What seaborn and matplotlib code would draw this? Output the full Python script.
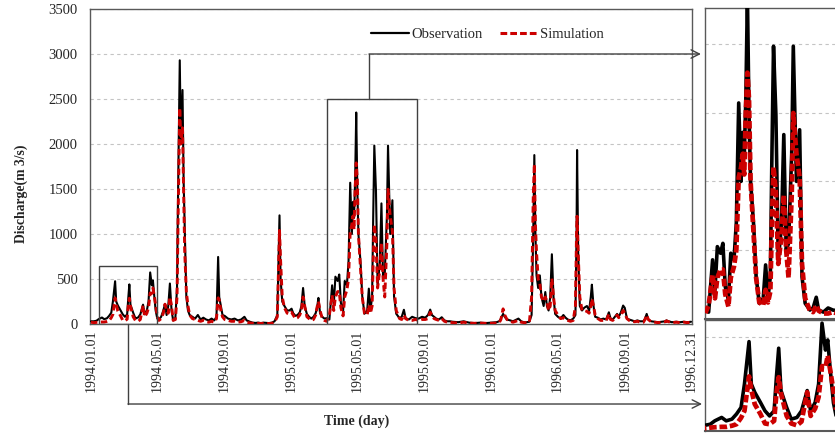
import numpy as np
import pandas as pd
import matplotlib
matplotlib.use("Agg")
import matplotlib.pyplot as plt
import matplotlib.dates as mdates
from matplotlib.patches import Rectangle
from matplotlib.lines import Line2D
import seaborn as sns

# ---------------- data (day offset from 1994-01-01, discharge m3/s) ----------------
days = [0, 5, 10, 14, 20, 24, 29, 33, 37, 40, 44, 46, 49, 54, 58, 62, 66, 68, 70, 72,
        77, 81, 86, 90, 95, 98, 102, 105, 108, 111, 113, 115, 118, 121, 124, 128, 132, 135, 138, 141,
        144, 147, 150, 154, 157, 159, 162, 164, 167, 169, 171, 174, 177, 180, 185, 190, 195, 200, 205, 210,
        215, 220, 225, 229, 232, 234, 237, 240, 244, 250, 256, 262, 268, 274, 280, 284, 290, 295, 300, 305,
        310, 315, 320, 325, 330, 335, 340, 344, 346, 349, 353, 358, 362, 366, 369, 373, 377, 381, 384, 387,
        390, 394, 398, 402, 406, 410, 413, 415, 418, 422, 426, 430, 435, 440, 443, 446, 450, 453, 456, 460,
        463, 467, 470, 473, 476, 478, 480, 482, 484, 486, 488, 492, 495, 499, 504, 507, 510, 513, 515, 517,
        520, 523, 527, 530, 533, 536, 540, 542, 546, 550, 553, 557, 563, 567, 571, 574, 580, 586, 592, 598,
        604, 610, 615, 619, 622, 626, 630, 635, 640, 645, 650, 655, 660, 670, 680, 690, 700, 710, 720, 730,
        740, 745, 748, 752, 755, 759, 765, 770, 775, 780, 785, 790, 795, 800, 804, 807, 809, 811, 813, 816,
        819, 822, 826, 829, 832, 835, 838, 841, 844, 847, 852, 857, 862, 866, 870, 875, 880, 884, 886, 887,
        889, 892, 896, 900, 905, 909, 912, 914, 917, 920, 925, 930, 935, 940, 945, 948, 952, 956, 960, 963,
        967, 971, 974, 978, 982, 987, 992, 997, 1002, 1008, 1011, 1014, 1017, 1022, 1028, 1035, 1042, 1048, 1050, 1054,
        1060, 1068, 1075, 1082, 1088, 1095]

observation = [30, 30, 36, 54, 72, 54, 63, 90, 125, 250, 475, 250, 206, 152, 107, 80, 107, 286, 440, 215,
               125, 63, 72, 107, 215, 107, 152, 250, 573, 430, 484, 340, 150, 60, 50, 80, 150, 220, 100, 200,
               450, 150, 40, 70, 400, 1500, 2930, 2000, 2600, 1600, 1095, 300, 150, 100, 80, 60, 100, 50, 70, 50,
               40, 60, 40, 80, 745, 300, 200, 100, 90, 60, 50, 60, 40, 50, 80, 40, 25, 15, 12, 15,
               10, 15, 12, 10, 15, 30, 100, 1207, 500, 250, 200, 150, 150, 170, 120, 90, 100, 130, 200, 400,
               200, 110, 80, 60, 80, 120, 200, 290, 120, 80, 60, 65, 50, 430, 211, 526, 478, 550, 235, 138,
               478, 430, 700, 1570, 1000, 1356, 1180, 1600, 2350, 1500, 1000, 672, 308, 114, 150, 393, 150, 308, 1200, 1982,
               1485, 430, 672, 1340, 500, 550, 1200, 1982, 1000, 1375, 308, 114, 65, 80, 158, 65, 50, 80, 65, 60,
               80, 70, 100, 160, 100, 80, 60, 50, 75, 40, 30, 30, 25, 20, 30, 15, 10, 15, 10, 15,
               20, 30, 60, 112, 80, 50, 40, 30, 45, 60, 30, 20, 20, 25, 100, 1000, 1877, 1000, 540, 400,
               540, 300, 200, 355, 200, 150, 300, 775, 300, 112, 80, 60, 100, 70, 50, 40, 60, 100, 1000, 1933,
               800, 200, 150, 180, 200, 150, 300, 437, 200, 80, 70, 50, 60, 50, 130, 60, 50, 80, 112, 80,
               130, 205, 180, 60, 50, 40, 30, 40, 30, 30, 60, 112, 50, 30, 25, 20, 25, 30, 40, 30,
               20, 25, 20, 25, 20, 25]

simulation = [20, 15, 18, 20, 22, 22, 28, 36, 70, 107, 290, 220, 143, 90, 40, 36, 54, 200, 286, 200,
              80, 40, 30, 50, 206, 80, 120, 180, 345, 340, 400, 330, 215, 80, 40, 60, 120, 220, 150, 120,
              300, 200, 40, 50, 300, 1200, 2400, 2000, 2180, 1500, 810, 360, 200, 100, 60, 50, 40, 30, 40, 25,
              20, 30, 20, 60, 290, 270, 150, 80, 50, 40, 30, 30, 20, 25, 40, 20, 12, 8, 6, 8,
              6, 8, 6, 6, 8, 20, 80, 1040, 700, 300, 180, 120, 110, 130, 100, 60, 70, 100, 150, 300,
              200, 80, 60, 40, 50, 100, 200, 250, 150, 60, 40, 30, 100, 320, 150, 300, 360, 360, 180, 90,
              300, 380, 500, 1030, 1100, 1200, 1050, 1500, 1790, 1600, 1000, 600, 300, 120, 100, 212, 120, 200, 700, 1105,
              920, 400, 600, 900, 500, 300, 900, 1497, 1200, 1030, 400, 150, 60, 50, 100, 60, 40, 40, 50, 40,
              50, 50, 60, 130, 100, 60, 50, 40, 60, 30, 20, 20, 15, 10, 20, 10, 8, 10, 8, 8,
              10, 15, 50, 168, 100, 50, 30, 20, 30, 40, 20, 15, 15, 20, 300, 1400, 1776, 1100, 800, 500,
              450, 300, 250, 300, 250, 150, 200, 505, 300, 150, 100, 60, 70, 50, 40, 30, 40, 200, 1000, 1197,
              800, 300, 150, 150, 140, 120, 200, 280, 200, 100, 60, 40, 40, 35, 110, 50, 40, 60, 100, 70,
              100, 150, 120, 60, 40, 30, 25, 30, 20, 20, 50, 100, 50, 25, 20, 15, 20, 25, 35, 25,
              15, 20, 15, 20, 15, 20]

tick_dates = ["1994-01-01", "1994-05-01", "1994-09-01", "1995-01-01", "1995-05-01",
              "1995-09-01", "1996-01-01", "1996-05-01", "1996-09-01", "1996-12-31"]
tick_labels = ["1994.01.01", "1994.05.01", "1994.09.01", "1995.01.01", "1995.05.01",
               "1995.09.01", "1996.01.01", "1996.05.01", "1996.09.01", "1996.12.31"]
y_ticks = [0, 500, 1000, 1500, 2000, 2500, 3000, 3500]
series_names = ["Observation", "Simulation"]

# ---------------- style ----------------
sns.set_style("white")
plt.rcParams["font.family"] = ["Liberation Serif", "DejaVu Serif"]

RED = "#cc0000"
EDGE = "#595959"
GRID = "#c4c4c4"

start = pd.Timestamp("1994-01-01")
df = pd.DataFrame({
    "date": start + pd.to_timedelta(days, unit="D"),
    "Observation": observation,
    "Simulation": simulation,
})


def d(x):
    return mdates.date2num(start + pd.Timedelta(days=x))


W, H = 835, 438
fig = plt.figure(figsize=(W / 100, H / 100), dpi=100)


def px_axes(l, t, r, b):
    return fig.add_axes([l / W, 1 - b / H, (r - l) / W, (b - t) / H])


ax = px_axes(90, 9, 692, 324)
ax_top = px_axes(705, 8, 838, 319)
ax_bot = px_axes(705, 320, 838, 431)


def draw(a, lw_o, lw_s, dash):
    sns.lineplot(data=df, x="date", y="Observation", ax=a, color="black", lw=lw_o,
                 estimator=None, legend=False, zorder=3)
    sns.lineplot(data=df, x="date", y="Simulation", ax=a, color=RED, lw=lw_s,
                 linestyle=(0, dash), estimator=None, legend=False, zorder=4)
    a.set_xlabel("")
    a.set_ylabel("")
    a.set_axisbelow(True)
    a.yaxis.grid(True, color=GRID, linestyle=(0, (3, 3)), lw=0.8)
    a.xaxis.grid(False)
    for s in a.spines.values():
        s.set_color(EDGE)
        s.set_linewidth(1.0)


# ---------------- main panel ----------------
draw(ax, 1.5, 2.1, (2.2, 1.2))
ax.set_xlim(d(-1.8), d(1096.7))
ax.set_ylim(0, 3500)
ax.set_yticks(y_ticks)
ax.set_xticks([mdates.date2num(pd.Timestamp(t)) for t in tick_dates])
ax.set_xticklabels(tick_labels, rotation=90, fontsize=10)
ax.tick_params(axis="y", length=0, pad=9, labelsize=10.5)
ax.tick_params(axis="x", length=0, pad=4)

legend_handles = [Line2D([], [], color="black", lw=1.6),
                  Line2D([], [], color=RED, lw=2.2, linestyle=(0, (2.2, 1.0)))]
ax.legend(legend_handles, series_names, ncol=2, frameon=False, loc="center",
          bbox_to_anchor=(0.66, 0.918), handlelength=2.6, handletextpad=0.15,
          columnspacing=1.2, fontsize=10.5)

# zoom boxes
ax.add_patch(Rectangle((d(430.7), 0), d(595) - d(430.7), 2500, fill=False,
                       ec="#404040", lw=1.0, zorder=5))
ax.add_patch(Rectangle((d(14.6), 0), d(120.4) - d(14.6), 650, fill=False,
                       ec="#404040", lw=1.0, zorder=5))

arrow_kw = dict(arrowstyle="->,head_length=0.6,head_width=0.3", color="#404040",
                lw=1.0, shrinkA=0, shrinkB=0)
# connector from big box to top inset
ax.plot([d(507.3), d(507.3)], [2500, 3000], color="#404040", lw=1.0, clip_on=False, zorder=5)
ax.annotate("", xy=(d(1113), 3000), xytext=(d(507.3), 3000), arrowprops=arrow_kw,
            annotation_clip=False)
# connector from small box to bottom inset
ax.plot([d(67.5), d(67.5)], [0, -889], color="#404040", lw=1.0, clip_on=False, zorder=5)
ax.annotate("", xy=(d(1115), -889), xytext=(d(67.5), -889), arrowprops=arrow_kw,
            annotation_clip=False)

# ---------------- insets ----------------
draw(ax_top, 2.6, 3.4, (1.6, 0.6))
ax_top.set_xlim(d(430.4), d(598.5))
ax_top.set_ylim(0, 2260)
ax_top.set_yticks([500, 1000, 1500, 2000])
ax_top.set_xticks([])
ax_top.tick_params(length=0, labelleft=False, labelbottom=False)
ax_top.spines["bottom"].set_linewidth(1.5)

draw(ax_bot, 2.6, 3.4, (1.6, 0.6))
ax_bot.set_xlim(d(5.4), d(122))
ax_bot.set_ylim(0, 590)
ax_bot.set_yticks([500])
ax_bot.set_xticks([])
ax_bot.tick_params(length=0, labelleft=False, labelbottom=False)
ax_bot.spines["bottom"].set_linewidth(1.5)

# ---------------- axis titles ----------------
fig.text(21 / W, 1 - 194 / H, "Discharge(m 3/s)", rotation=90, ha="center", va="center",
         fontweight="bold", fontsize=9.8)
fig.text(357 / W, 1 - 421 / H, "Time (day)", ha="center", va="center",
         fontweight="bold", fontsize=10)

fig.savefig("out.png", dpi=100)
